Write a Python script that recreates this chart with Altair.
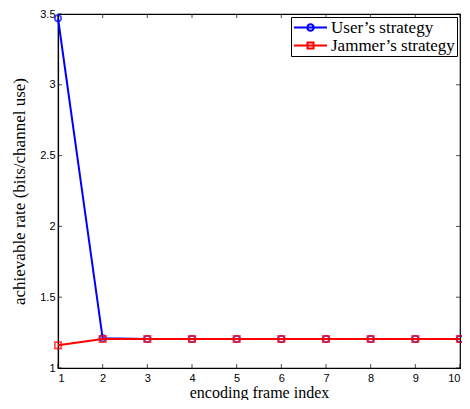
import altair as alt
import pandas as pd

frames = [1, 2, 3, 4, 5, 6, 7, 8, 9, 10]
user_rate = [3.47, 1.21, 1.205, 1.205, 1.205, 1.205, 1.205, 1.205, 1.205, 1.205]
jammer_rate = [1.16, 1.205, 1.205, 1.205, 1.205, 1.205, 1.205, 1.205, 1.205, 1.205]
series_names = ["User\u2019s strategy", "Jammer\u2019s strategy"]
series_colors = ["#0000ff", "#ff0000"]
x_ticks = [1, 2, 3, 4, 5, 6, 7, 8, 9, 10]
y_ticks = [1, 1.5, 2, 2.5, 3, 3.5]

rows = []
for f, u in zip(frames, user_rate):
    rows.append({"frame": f, "rate": u, "series": series_names[0]})
for f, j in zip(frames, jammer_rate):
    rows.append({"frame": f, "rate": j, "series": series_names[1]})
df = pd.DataFrame(rows)

xscale = alt.Scale(domain=[1, 10], nice=False, zero=False)
yscale = alt.Scale(domain=[1, 3.5], nice=False, zero=False)
cscale = alt.Scale(domain=series_names, range=series_colors)

X = alt.X("frame:Q", scale=xscale,
          axis=alt.Axis(values=x_ticks, ticks=False, labelPadding=4, grid=False,
                        title="encoding frame index", format="d"))
Y = alt.Y("rate:Q", scale=yscale,
          axis=alt.Axis(values=y_ticks, ticks=False, labelPadding=3, grid=False,
                        title="achievable rate (bits/channel use)", format="~g"))

# legend symbols: a line segment with the marker in the middle (unit = 5px)
circle_path = "M-3.3,0H3.3M0.65,0A0.65,0.65,0,1,1,-0.65,0A0.65,0.65,0,1,1,0.65,0"
square_path = "M-3.3,0H3.3M-0.6,-0.6H0.6V0.6H-0.6Z"

layers = []
for name, shape in zip(series_names, ["circle", "square"]):
    sub = df[df["series"] == name]
    line = alt.Chart(sub).mark_line(strokeWidth=2).encode(
        x=X, y=Y, color=alt.Color("series:N", scale=cscale, legend=None))
    pts = alt.Chart(sub).mark_point(shape=shape, filled=False, size=40, strokeWidth=1.8).encode(
        x=X, y=Y, color=alt.Color("series:N", scale=cscale, legend=None))
    layers += [line, pts]

legend_layer = alt.Chart(df).mark_point(opacity=0, filled=False).encode(
    x=X, y=Y,
    color=alt.Color("series:N", scale=cscale,
                    legend=alt.Legend(title=None, orient="top-right", offset=3,
                                      symbolSize=100, symbolStrokeWidth=2,
                                      symbolOpacity=1, symbolFillColor="transparent",
                                      symbolOffset=9, labelOffset=12,
                                      labelFont="Liberation Serif", labelFontSize=17,
                                      labelColor="black",
                                      strokeColor="black", fillColor="white",
                                      padding=2, rowPadding=0, labelLimit=300)),
    shape=alt.Shape("series:N", scale=alt.Scale(domain=series_names, range=[circle_path, square_path]),
                    legend=alt.Legend(title=None)),
)

tick_df_x = pd.DataFrame({"frame": x_ticks})
tick_df_y = pd.DataFrame({"rate": y_ticks})
tb = alt.Chart(tick_df_x).mark_tick(orient="vertical", size=4, yOffset=-2, color="black", thickness=1).encode(
    x=X, y=alt.datum(1, scale=yscale))
tt = alt.Chart(tick_df_x).mark_tick(orient="vertical", size=4, yOffset=2, color="black", thickness=1).encode(
    x=X, y=alt.datum(3.5, scale=yscale))
tl = alt.Chart(tick_df_y).mark_tick(orient="horizontal", size=4, xOffset=2, color="black", thickness=1).encode(
    y=Y, x=alt.datum(1, scale=xscale))
tr = alt.Chart(tick_df_y).mark_tick(orient="horizontal", size=4, xOffset=-2, color="black", thickness=1).encode(
    y=Y, x=alt.datum(10, scale=xscale))

chart = alt.layer(tb, tt, tl, tr, legend_layer, *layers).properties(
    width=402, height=354,
    autosize=alt.AutoSizeParams(type="none"),
    padding={"left": 50, "top": 6, "right": 2, "bottom": 32},
).configure_view(stroke="black", strokeWidth=1.2).configure_axis(
    labelFont="Liberation Sans", labelFontSize=11, labelColor="black",
    titleFont="Liberation Serif", titleFontSize=16, titleFontWeight="normal", titleColor="black",
    domainColor="black", domainWidth=1.2,
).configure_axisX(titlePadding=1).configure_axisY(titlePadding=11, titleFontSize=17)

chart.save("out.html", embed_options={"renderer": "svg", "actions": False})
